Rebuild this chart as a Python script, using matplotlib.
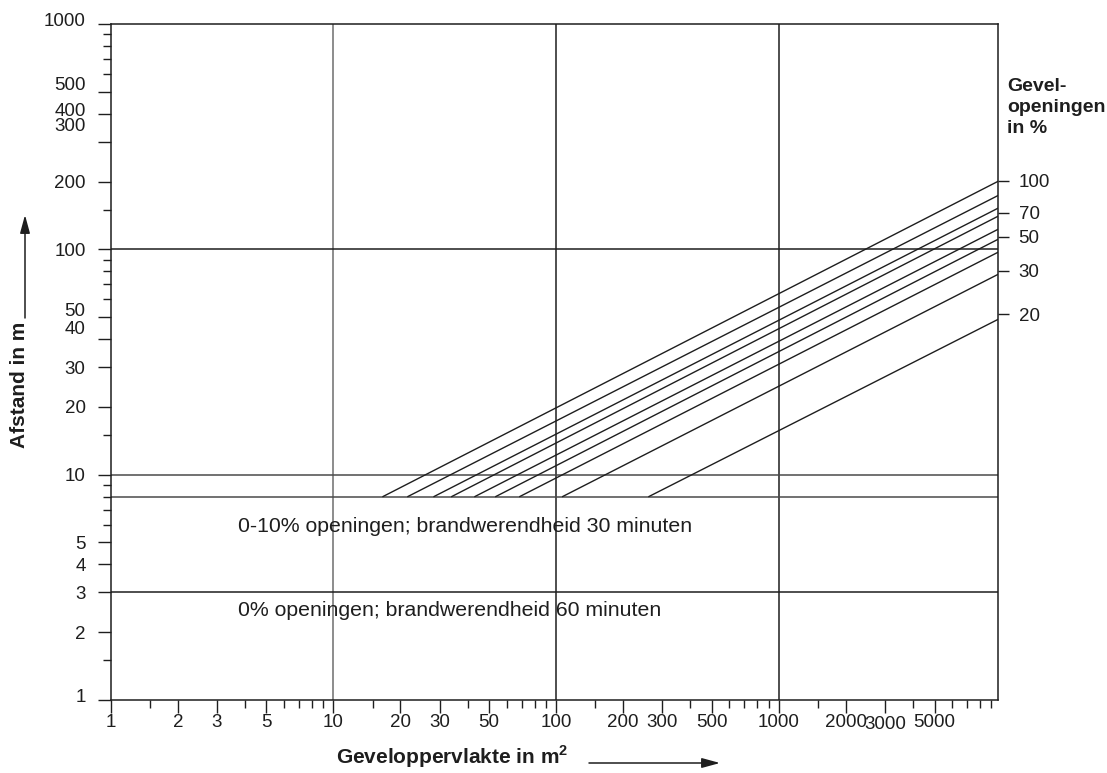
import matplotlib
matplotlib.use("Agg")
import matplotlib.pyplot as plt
from matplotlib.patches import FancyArrowPatch
from matplotlib.transforms import ScaledTranslation

plt.rcParams['font.family'] = ['Liberation Sans', 'DejaVu Sans']
plt.rcParams['mathtext.fontset'] = 'custom'
plt.rcParams['mathtext.rm'] = 'Liberation Sans'
plt.rcParams['mathtext.bf'] = 'Liberation Sans:bold'

# ---- data -------------------------------------------------------------
# facade area axis (m2)
x_major = [1, 2, 3, 5, 10, 20, 30, 50, 100, 200, 300, 500, 1000, 2000, 3000, 5000]
x_minor = [1.5, 4, 6, 7, 8, 9, 15, 40, 60, 70, 80, 90, 150, 400, 600, 700, 800,
           900, 1500, 4000, 6000, 7000, 8000, 9000]
x_limits = [1, 9600]

# distance axis (m)
y_major = [1, 2, 3, 4, 5, 10, 20, 30, 40, 50, 100, 200, 300, 400, 500, 1000]
y_minor = [1.5, 6, 7, 8, 9, 15, 60, 70, 80, 90, 150, 600, 700, 800, 900]
y_limits = [1, 1000]

# straight reference lines
h_lines = [100, 10, 8, 3]
v_lines = [10, 100, 1000]

# one line per percentage of facade openings
opening_pct = [100, 90, 80, 70, 60, 50, 40, 30, 20]
start_area = [16.7, 21.6, 28.3, 34.0, 43.2, 53.6, 68.7, 107, 261]
start_dist = [8, 8, 8, 8, 8, 8, 8, 8, 8]
end_area = [9600, 9600, 9600, 9600, 9600, 9600, 9600, 9600, 9600]
end_dist = [200, 173, 152, 140, 122.5, 110.6, 96.9, 77.3, 48.8]

# right-hand scale of opening percentages
pct_labels = ['100', '70', '50', '30', '20']
pct_label_dist = [202, 145.6, 114, 80.5, 51.4]

# ---- figure ------------------------------------------------------------
W, H = 1107, 773
fig = plt.figure(figsize=(W / 100, H / 100), dpi=100)
left, right, top, bottom = 110.7, 997.7, 24, 700
ax = fig.add_axes([left / W, 1 - bottom / H, (right - left) / W, (bottom - top) / H])

ink = '#1e1e1e'
tick_size = 13.5
ax.set_xscale('log')
ax.set_yscale('log')
ax.set_xlim(*x_limits)
ax.set_ylim(*y_limits)

for s in ax.spines.values():
    s.set_color(ink)
    s.set_linewidth(1.1)

ax.set_xticks(x_major)
ax.set_xticks(x_minor, minor=True)
ax.set_xticklabels([str(v) for v in x_major])
ax.set_yticks(y_major)
ax.set_yticks(y_minor, minor=True)
ax.set_yticklabels([str(v) for v in y_major])
ax.xaxis.set_minor_formatter(plt.NullFormatter())
ax.yaxis.set_minor_formatter(plt.NullFormatter())

ax.tick_params(axis='both', which='major', direction='out', length=9.5, width=1,
               color=ink, labelsize=tick_size, labelcolor=ink)
ax.tick_params(axis='both', which='minor', direction='out', length=6, width=1,
               color=ink)
ax.tick_params(axis='x', which='major', pad=0.5)
ax.tick_params(axis='y', which='major', pad=8.5)

# small vertical shifts of individual tick labels (pixels, + = down)
y_label_shift = {1000: -4, 500: -8, 400: -4, 300: -17, 50: -8, 40: -12, 1: -5}
for val, lab in zip(y_major, ax.get_yticklabels()):
    dy = y_label_shift.get(val, 0)
    if dy:
        lab.set_transform(lab.get_transform() +
                          ScaledTranslation(0, -dy / 100, fig.dpi_scale_trans))
x_label_shift = {3000: 2}
for val, lab in zip(x_major, ax.get_xticklabels()):
    dy = x_label_shift.get(val, 0)
    if dy:
        lab.set_transform(lab.get_transform() +
                          ScaledTranslation(0, -dy / 100, fig.dpi_scale_trans))

# reference lines
for v in v_lines:
    ax.axvline(v, color='#6e6e6e' if v == 10 else ink, lw=1.1, zorder=1)
for h in h_lines:
    ax.axhline(h, color='#4a4a4a' if h in (10, 8) else ink, lw=1.1, zorder=1)

# opening-percentage lines
for x0, y0, x1, y1 in zip(start_area, start_dist, end_area, end_dist):
    ax.plot([x0, x1], [y0, y1], color=ink, lw=1.0, zorder=2)

# right-hand percentage scale
ax2 = ax.twinx()
ax2.set_yscale('log')
ax2.set_ylim(*y_limits)
ax2.set_yticks(pct_label_dist)
ax2.set_yticklabels(pct_labels)
ax2.yaxis.set_minor_locator(plt.NullLocator())
ax2.tick_params(axis='y', which='major', direction='out', length=8, width=1,
                color=ink, labelsize=tick_size, labelcolor=ink, pad=7)
for s in ax2.spines.values():
    s.set_visible(False)

# region annotations
fig.text(238 / W, 1 - 527 / H, '0-10% openingen; brandwerendheid 30 minuten',
         fontsize=15.3, color=ink, ha='left', va='center')
fig.text(238 / W, 1 - 610 / H, '0% openingen; brandwerendheid 60 minuten',
         fontsize=15.3, color=ink, ha='left', va='center')

# title of the right-hand scale
fig.text(1007 / W, 1 - 78 / H, 'Gevel-\nopeningen\nin %', fontsize=14,
         fontweight='bold', color=ink, ha='left', va='top', linespacing=1.3)

# axis titles with arrows
fig.text(336 / W, 1 - 757 / H, r'Geveloppervlakte in m$^{\mathbf{2}}$',
         fontsize=15, fontweight='bold', color=ink, ha='left', va='center')
fig.text(20 / W, 1 - 385 / H, 'Afstand in m', fontsize=15, fontweight='bold',
         color=ink, rotation=90, ha='center', va='center')

arrow = dict(arrowstyle='-|>,head_length=1.1,head_width=0.3', color=ink, lw=1.1,
             mutation_scale=10, shrinkA=0, shrinkB=0, transform=fig.transFigure)
fig.add_artist(FancyArrowPatch((589 / W, 1 - 763 / H), (720 / W, 1 - 763 / H), **arrow))
fig.add_artist(FancyArrowPatch((25 / W, 1 - 318 / H), (25 / W, 1 - 215 / H), **arrow))

fig.savefig('out.png', dpi=100)
